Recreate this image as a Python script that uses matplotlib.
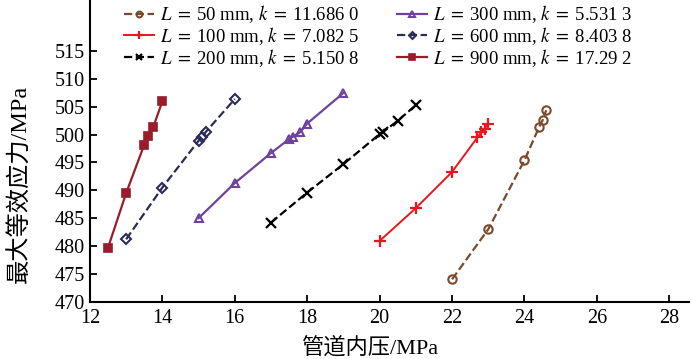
import matplotlib
matplotlib.use('Agg')
import matplotlib.pyplot as plt

plt.rcParams['font.family'] = ['Liberation Serif', 'Noto Sans CJK SC', 'DejaVu Sans']
plt.rcParams['mathtext.fontset'] = 'stix'

# 各工况数据：管道内压 (MPa) 与最大等效应力 (MPa)
x50 = [22, 23, 24, 24.4, 24.5, 24.6]
y50 = [474.0, 483.0, 495.4, 501.3, 502.6, 504.4]
x100 = [20, 21, 22, 22.7, 22.8, 22.9, 23.0]
y100 = [480.9, 486.8, 493.3, 499.5, 500.4, 501.1, 502.0]
x200 = [17, 18, 19, 20, 20.1, 20.5, 21]
y200 = [484.2, 489.6, 494.7, 500.1, 500.5, 502.5, 505.3]
x300 = [15, 16, 17, 17.5, 17.6, 17.8, 18, 19]
y300 = [485.0, 491.3, 496.7, 499.2, 499.6, 500.4, 502.0, 507.5]
x600 = [13, 14, 15, 15.1, 15.2, 16]
y600 = [481.2, 490.5, 498.9, 499.6, 500.5, 506.4]
x900 = [12.5, 13, 13.5, 13.6, 13.75, 14]
y900 = [479.7, 489.5, 498.2, 499.7, 501.4, 506.0]

lengths = [50, 100, 200, 300, 600, 900]
k_vals = ['11.686 0', '7.082 5', '5.150 8', '5.531 3', '8.403 8', '17.29 2']

fig = plt.figure(figsize=(6.92, 3.59), dpi=100)
ax = fig.add_axes([0.130, 0.160, 0.866, 0.840])

def lab(L, k):
    return r'$L\;=\;$%d mm, $k\;=\;$%s' % (L, k)

ax.plot(x50, y50, ls='--', color='#7a4a2c', marker='o', ms=6, mfc='none',
        mew=1.5, lw=1.6, label=lab(lengths[0], k_vals[0]))
ax.plot(x100, y100, ls='-', color='#e8161e', marker='+', ms=9, mew=1.6,
        lw=1.4, label=lab(lengths[1], k_vals[1]))
ax.plot(x200, y200, ls='--', color='black', marker='x', ms=7, mew=1.6,
        lw=1.6, label=lab(lengths[2], k_vals[2]))
ax.plot(x300, y300, ls='-', color='#6f42a0', marker='^', ms=6, mfc='none',
        mew=1.5, lw=1.6, label=lab(lengths[3], k_vals[3]))
ax.plot(x600, y600, ls='--', color='#2c2c58', marker='D', ms=5, mfc='none',
        mew=1.5, lw=1.6, label=lab(lengths[4], k_vals[4]))
ax.plot(x900, y900, ls='-', color='#9a1c2a', marker='s', ms=6, mfc='#9a1c2a',
        mew=1.2, lw=1.6, label=lab(lengths[5], k_vals[5]))

ax.set_xlim(12, 28.55)
ax.set_ylim(470, 524.2)
ax.set_xticks(range(12, 29, 2))
ax.set_yticks(range(470, 516, 5))
ax.spines['top'].set_visible(False)
ax.spines['right'].set_visible(False)
ax.spines['left'].set_linewidth(1.5)
ax.spines['bottom'].set_linewidth(1.5)
ax.tick_params(direction='in', length=5, width=1.3, labelsize=14.5, pad=5)
ax.tick_params(axis='y', pad=4)

ax.set_xlabel('管道内压/MPa', fontsize=16)
ax.set_ylabel('最大等效应力/MPa', fontsize=17.5)
ax.xaxis.set_label_coords(0.467, -0.12)
ax.yaxis.set_label_coords(-0.097, 0.39)

leg = ax.legend(ncol=2, loc='upper left', bbox_to_anchor=(0.045, 1.014),
                frameon=False, fontsize=13.5, handlelength=1.6,
                handletextpad=0.3, columnspacing=2.0, labelspacing=0.0,
                markerscale=0.7, borderaxespad=0)

fig.savefig('out.png', dpi=100)
